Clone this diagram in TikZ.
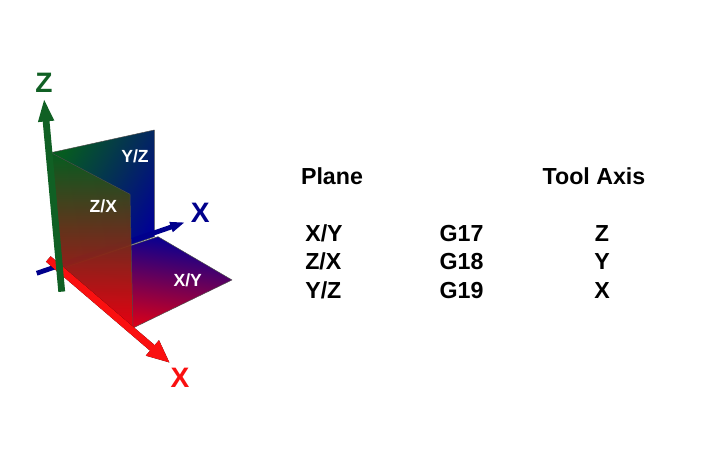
\documentclass[tikz,border=0pt]{standalone}
\usepackage{fontspec}
\setmainfont{Liberation Sans}
\usetikzlibrary{arrows.meta}
\definecolor{axisgreen}{RGB}{16,96,36}
\definecolor{axisblue}{RGB}{0,0,140}
\definecolor{axisred}{RGB}{250,16,16}
\definecolor{planegreen}{RGB}{6,92,32}
\definecolor{planeblue}{RGB}{0,0,150}
\definecolor{planered}{RGB}{232,0,16}
\definecolor{planeteal}{RGB}{4,46,88}
\tikzset{
  planeface/.style={draw=black!70,line width=0.012cm,line join=round},
  planetext/.style={white,font=\fontsize{12.5}{15}\selectfont\bfseries},
  axistext/.style={font=\fontsize{20}{24}\selectfont\bfseries},
  tabletext/.style={black,font=\fontsize{16.5}{19}\selectfont\bfseries,anchor=base,inner sep=0pt},
  tableleft/.style={tabletext,anchor=base west},
}
\begin{document}
\begin{tikzpicture}
  \useasboundingbox[fill=white] (0,0) rectangle (17.8,11.875);

  % Corners of the planes
  \coordinate (O) at (1.500,5.143);
  \coordinate (zt) at (1.275,8.058);
  \coordinate (yzt) at (3.858,8.625);
  \coordinate (yzb) at (3.858,5.958);
  \coordinate (zxt) at (3.250,7.018);
  \coordinate (xb) at (3.325,3.675);
  \coordinate (xyb) at (3.950,5.958);
  \coordinate (xyr) at (5.800,4.875);

  % Ends of the axes
  \coordinate (zs) at (1.543,4.583);
  \coordinate (ze) at (1.100,9.418);
  \coordinate (bs) at (0.918,5.043);
  \coordinate (be) at (4.625,6.318);
  \coordinate (rs) at (1.208,5.400);
  \coordinate (re) at (4.250,2.800);

  % Drawing plane Y/Z
  \shade [planeface,top color=planegreen,bottom color=planeblue,middle color=planeteal,shading angle=60]
    (O) -- (zt) -- (yzt) -- (yzb) -- cycle;

  % Drawing plane X/Y
  \shade [planeface,top color=planeblue,bottom color=planered,shading angle=-8]
    (O) -- (xyb) -- (xyr) -- (xb) -- cycle;

  % Drawing blue axis
  \draw [-{Triangle[length=0.37cm,width=0.24cm]},axisblue,line width=0.12cm] (bs) -- (be);

  % Drawing plane Z/X
  \shade [planeface,top color=planegreen,bottom color=planered,fill opacity=0.94]
    (O) -- (zt) -- (zxt) -- (xb) -- cycle;

  % Drawing red axis
  \draw [-{Triangle[length=0.58cm,width=0.46cm]},black,line width=0.18cm,shift={(0.025,-0.035)}] (rs) -- (re);
  \draw [-{Triangle[length=0.58cm,width=0.46cm]},axisred,line width=0.18cm] (rs) -- (re);

  % Drawing green axis
  \draw [-{Triangle[length=0.58cm,width=0.36cm]},axisgreen,line width=0.17cm] (zs) -- (ze);

  % Labels of planes and axes
  \node [planetext] (yzlabel) at (3.375,7.975) {Y/Z};
  \node [planetext] (zxlabel) at (2.583,6.708) {Z/X};
  \node [planetext] (xylabel) at (4.693,4.875) {X/Y};
  \node [axistext,axisgreen] (zlabel) at (1.100,9.792) {Z};
  \node [axistext,axisblue] (xbluelabel) at (5.008,6.558) {X};
  \node [axistext,axisred] (xredlabel) at (4.500,2.418) {X};

  % Table of planes
  \node [tabletext] (plane) at (8.300,7.268) {Plane};
  \node [tabletext] (toolaxis) at (14.850,7.268) {Tool Axis};

  \node [tableleft] (xy) at (7.625,5.833) {X/Y};
  \node [tableleft] (zx) at (7.625,5.125) {Z/X};
  \node [tableleft] (yz) at (7.625,4.418) {Y/Z};

  \node [tabletext] (gxvii) at (11.540,5.833) {G17};
  \node [tabletext] (gxviii) at (11.540,5.125) {G18};
  \node [tabletext] (gxix) at (11.540,4.418) {G19};

  \node [tabletext] (toolz) at (15.050,5.833) {Z};
  \node [tabletext] (tooly) at (15.050,5.125) {Y};
  \node [tabletext] (toolx) at (15.050,4.418) {X};
\end{tikzpicture}
\end{document}
